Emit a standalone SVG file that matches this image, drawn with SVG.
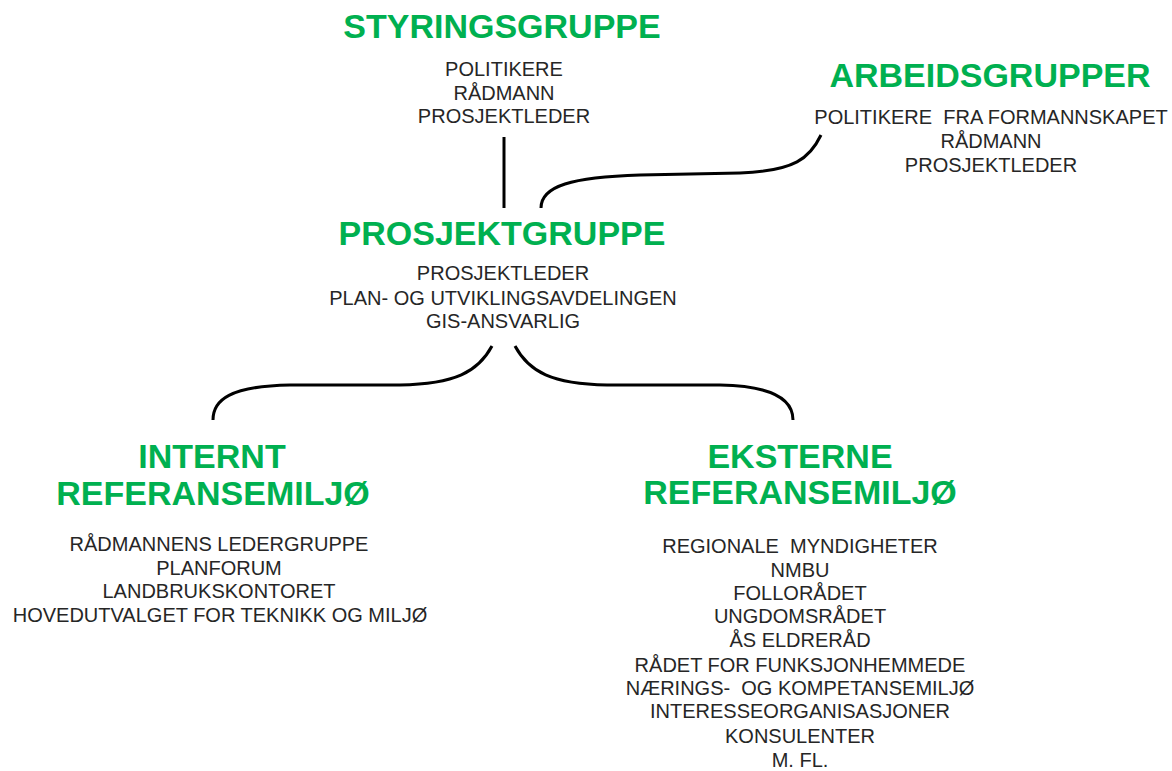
<svg xmlns="http://www.w3.org/2000/svg" width="1172" height="771" viewBox="0 0 1172 771">
<style>
.t{font-family:"Liberation Sans",Arial,sans-serif;font-weight:bold;font-size:34px;fill:#00B050;text-anchor:middle}
.b{font-family:"Liberation Sans",Arial,sans-serif;font-size:20px;fill:#262626;text-anchor:middle;white-space:pre}
.c{fill:none;stroke:#000;stroke-width:3;stroke-linecap:butt}
</style>
<rect width="1172" height="771" fill="#fff"/>
<g id="connectors">
<path class="c" d="M504,137 L504,208"/>
<path class="c" d="M541,208 C541,186 572,177 640,175 L740,173 C795,171 810,158 821,135"/>
<path class="c" d="M492,346 C478,372 455,384 400,385 L290,385 C230,386 213,400 213,420"/>
<path class="c" d="M515,346 C529,372 552,384 607,385 L720,385 C775,386 793,400 793,420"/>
</g>
<g id="styringsgruppe">
<text class="t" x="502" y="38">STYRINGSGRUPPE</text>
<text class="b" x="504" y="76">POLITIKERE</text>
<text class="b" x="504" y="100">RÅDMANN</text>
<text class="b" x="504" y="123">PROSJEKTLEDER</text>
</g>
<g id="arbeidsgrupper">
<text class="t" x="990" y="87">ARBEIDSGRUPPER</text>
<text class="b" x="991" y="124">POLITIKERE  FRA FORMANNSKAPET</text>
<text class="b" x="991" y="148">RÅDMANN</text>
<text class="b" x="991" y="172">PROSJEKTLEDER</text>
</g>
<g id="prosjektgruppe">
<text class="t" x="502" y="245">PROSJEKTGRUPPE</text>
<text class="b" x="503" y="280">PROSJEKTLEDER</text>
<text class="b" x="503" y="305">PLAN- OG UTVIKLINGSAVDELINGEN</text>
<text class="b" x="503" y="328">GIS-ANSVARLIG</text>
</g>
<g id="internt">
<text class="t" x="212" y="468">INTERNT</text>
<text class="t" x="213" y="505">REFERANSEMILJØ</text>
<text class="b" x="219" y="551">RÅDMANNENS LEDERGRUPPE</text>
<text class="b" x="219" y="575">PLANFORUM</text>
<text class="b" x="219" y="598">LANDBRUKSKONTORET</text>
<text class="b" x="220" y="622">HOVEDUTVALGET FOR TEKNIKK OG MILJØ</text>
</g>
<g id="eksterne">
<text class="t" x="800" y="468">EKSTERNE</text>
<text class="t" x="800" y="504">REFERANSEMILJØ</text>
<text class="b" x="800" y="553">REGIONALE  MYNDIGHETER</text>
<text class="b" x="800" y="577">NMBU</text>
<text class="b" x="800" y="600">FOLLORÅDET</text>
<text class="b" x="800" y="623">UNGDOMSRÅDET</text>
<text class="b" x="800" y="647">ÅS ELDRERÅD</text>
<text class="b" x="800" y="672">RÅDET FOR FUNKSJONHEMMEDE</text>
<text class="b" x="800" y="695">NÆRINGS-  OG KOMPETANSEMILJØ</text>
<text class="b" x="800" y="718">INTERESSEORGANISASJONER</text>
<text class="b" x="800" y="743">KONSULENTER</text>
<text class="b" x="800" y="767">M. FL.</text>
</g>
</svg>
